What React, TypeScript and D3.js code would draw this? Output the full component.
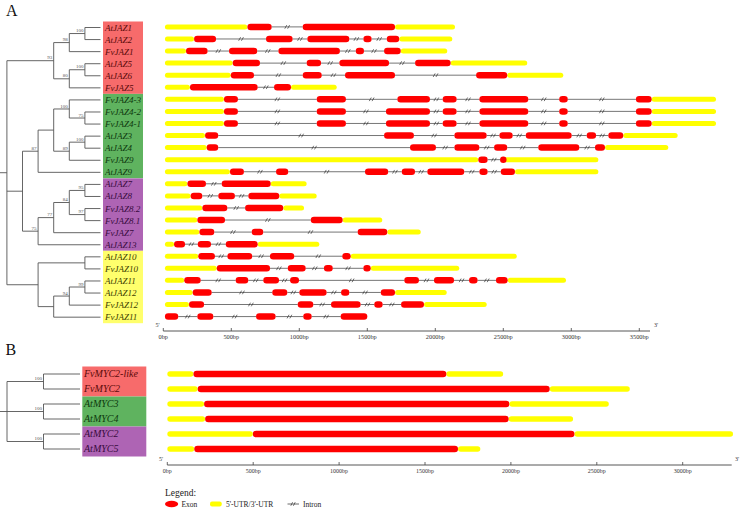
import React from "react";
import * as d3 from "d3";

type TreeNode = string | { b: number | null; c: TreeNode[] };
const N = (b: number | null, c: TreeNode[]): TreeNode => ({ b, c });

// ---------- Panel A data ----------
const jazNames = ["AtJAZ1","AtJAZ2","FvJAZ1","AtJAZ5","AtJAZ6","FvJAZ5","FvJAZ4-3","FvJAZ4-2","FvJAZ4-1","AtJAZ3","AtJAZ4","FvJAZ9","AtJAZ9","AtJAZ7","AtJAZ8","FvJAZ8.2","FvJAZ8.1","FvJAZ7","AtJAZ13","AtJAZ10","FvJAZ10","AtJAZ11","AtJAZ12","FvJAZ12","FvJAZ11"];
const jazGroup = [0,0,0,0,0,0,1,1,1,1,1,1,1,2,2,2,2,2,2,3,3,3,3,3,3];
// u = UTR, e = exon, i = intron
const jazTypes = [
  "ueieu",
  "ueieieieieu",
  "ueieieieieu",
  "ueieieieu",
  "ueieieieu",
  "ueieu",
  "ueieieieieieieu",
  "ueieieieieieieu",
  "ueieieieieieieu",
  "ueieieieieieieu",
  "ueieieieieieu",
  "ueieu",
  "ueieieieieieieu",
  "ueieu",
  "ueieieu",
  "ueieu",
  "ueieu",
  "ueieieu",
  "ueieieu",
  "ueieieieu",
  "ueieieieu",
  "ueieieieieieieieu",
  "ueieieieieu",
  "ueieieieieu",
  "eieieieie",
];
const jazBounds = [
  [12,618,797,1025,1704,2145],
  [12,226,388,755,951,1059,1368,1471,1532,1643,1735,2125],
  [12,167,326,483,691,846,1299,1415,1476,1623,1746,2088],
  [12,510,711,1054,1160,1294,1660,1851,2113,2676],
  [12,496,667,1025,1165,1336,1704,2300,2529,2941],
  [12,196,694,814,939,1275],
  [12,446,549,1128,1343,1721,1961,2054,2157,2324,2684,2911,2974,3475,3591,4064],
  [12,446,549,1128,1343,1637,1961,2054,2157,2324,2684,2911,2974,3475,3591,4064],
  [12,446,549,1128,1343,1637,1961,2054,2157,2324,2684,2911,2974,3475,3591,4064],
  [12,307,404,1623,1843,2140,2378,2471,2569,2665,3003,3113,3182,3272,3382,3782],
  [12,319,404,1814,2005,2140,2324,2432,2529,2757,3059,3174,3248,3713],
  [12,2316,2385,2476,2500,3199],
  [12,490,593,829,919,1483,1654,1753,1851,1941,2213,2324,2385,2481,2586,3199],
  [12,177,314,429,790,1054],
  [12,201,287,404,527,625,853,1128],
  [12,287,471,601,882,1035],
  [12,250,454,1084,1319,1610],
  [12,265,375,650,735,1429,1647,1893],
  [12,79,160,253,351,459,694,1147],
  [12,257,380,471,654,784,963,1316,1378,2599],
  [12,393,785,915,1047,1181,1246,1471,1525,2176],
  [12,154,275,532,625,735,851,932,998,1772,1880,1990,2138,2248,2311,2446,2532,2961],
  [12,216,356,801,912,1000,1201,1307,1368,1599,1704,2084],
  [12,189,300,988,1103,1233,1451,1551,1613,1748,1917,2378],
  [12,110,250,368,682,826,1029,1091,1304,1500],
];
const jazTree: TreeNode = N(null, [
  N(93, [N(98, [N(100, ["AtJAZ1", "AtJAZ2"]), "FvJAZ1"]), N(80, [N(100, ["AtJAZ5", "AtJAZ6"]), "FvJAZ5"])]),
  N(null, [
    N(87, [
      N(null, [N(100, ["FvJAZ4-3", N(75, ["FvJAZ4-2", "FvJAZ4-1"])]), N(89, [N(100, ["AtJAZ3", "AtJAZ4"]), "FvJAZ9"])]),
      "AtJAZ9",
    ]),
    N(75, [N(77, [N(84, [N(95, ["AtJAZ7", "AtJAZ8"]), N(97, ["FvJAZ8.2", "FvJAZ8.1"])]), "FvJAZ7"]), "AtJAZ13"]),
  ]),
  N(null, [N(null, ["AtJAZ10", "FvJAZ10"]), N(null, [N(94, [N(99, ["AtJAZ11", "AtJAZ12"]), "FvJAZ12"]), "FvJAZ11"])]),
]);
const jazTicks = [0, 500, 1000, 1500, 2000, 2500, 3000, 3500];

// ---------- Panel B data ----------
const mycNames = ["FvMYC2-like", "FvMYC2", "AtMYC3", "AtMYC4", "AtMYC2", "AtMYC5"];
const mycGroup = [0, 0, 1, 1, 2, 2];
const mycTypes = ["ueu", "ueu", "ueu", "ueu", "ueu", "ueu"];
const mycBounds = [
  [0, 152, 1624, 1955],
  [0, 177, 2226, 2692],
  [0, 214, 1991, 2570],
  [0, 220, 1987, 2362],
  [0, 498, 2370, 3293],
  [0, 157, 1692, 1822],
];
const mycTree: TreeNode = N(null, [N(100, ["FvMYC2-like", "FvMYC2"]), N(100, ["AtMYC3", "AtMYC4"]), N(100, ["AtMYC2", "AtMYC5"])]);
const mycTicks = [0, 500, 1000, 1500, 2000, 2500, 3000];

// ---------- styles ----------
const groupFill = ["#F76B6B", "#5FB35F", "#AE64B4", "#FFFF6C"];
const groupText = ["#5a0a0a", "#0e380e", "#380b3e", "#404000"];
const SERIF = "'Liberation Serif', 'Times New Roman', serif";
const UTR = "#FFFF00";
const EXON = "#FF0000";

function layoutTree(t: TreeNode, yOf: (n: string) => number, leafX: number, step: number) {
  const lines: number[][] = [];
  const labels: { x: number; y: number; t: number }[] = [];
  function rec(n: TreeNode): { x: number; y: number; h: number } {
    if (typeof n === "string") return { x: leafX, y: yOf(n), h: 0 };
    const kids = n.c.map(rec);
    const h = (d3.max(kids, (k) => k.h) as number) + 1;
    const x = leafX - step * h;
    const y = (kids[0].y + kids[kids.length - 1].y) / 2;
    lines.push([x, kids[0].y, x, kids[kids.length - 1].y]);
    kids.forEach((k) => lines.push([x, k.y, k.x, k.y]));
    if (n.b != null) labels.push({ x, y, t: n.b });
    return { x, y, h };
  }
  const r = rec(t);
  lines.push([0, r.y, r.x, r.y]);
  return { lines, labels };
}

function Tree({ tree, yOf, leafX, step }: any) {
  const { lines, labels } = layoutTree(tree, yOf, leafX, step);
  return (
    <g>
      {lines.map((l, i) => (
        <line key={i} x1={l[0]} y1={l[1]} x2={l[2]} y2={l[3]} stroke="#555" strokeWidth={0.9} />
      ))}
      {labels.map((l, i) => (
        <text key={"b" + i} x={l.x - 1.5} y={l.y - 1.4} fontSize={5} fill="#555" textAnchor="end" fontFamily={SERIF}>
          {l.t}
        </text>
      ))}
    </g>
  );
}

function Gene({ types, bounds, x, y, hu, he }: any) {
  const segs = types.split("").map((c: string, i: number) => ({ c, a: x(bounds[i]), b: x(bounds[i + 1]) }));
  return (
    <g>
      {segs.filter((s: any) => s.c === "u").map((s: any, i: number) => (
        <rect key={"u" + i} x={s.a} y={y - hu / 2} width={s.b - s.a} height={hu} rx={hu / 2} fill={UTR} />
      ))}
      {segs.filter((s: any) => s.c === "i").map((s: any, i: number) => {
        const m = (s.a + s.b) / 2;
        return (
          <g key={"i" + i}>
            <line x1={s.a} x2={s.b} y1={y} y2={y} stroke="#666" strokeWidth={0.9} />
            <line x1={m - 2.4} y1={y + 1.8} x2={m - 0.4} y2={y - 1.8} stroke="#333" strokeWidth={0.7} />
            <line x1={m + 0.4} y1={y + 1.8} x2={m + 2.4} y2={y - 1.8} stroke="#333" strokeWidth={0.7} />
          </g>
        );
      })}
      {segs.filter((s: any) => s.c === "e").map((s: any, i: number) => (
        <rect key={"e" + i} x={s.a} y={y - he / 2} width={Math.max(s.b - s.a, he)} height={he} rx={he / 2} fill={EXON} />
      ))}
    </g>
  );
}

function Axis({ x, y, ticks, end, fs, p5, p3 }: any) {
  return (
    <g fontFamily={SERIF} fill="#333">
      <line x1={x(0)} x2={end} y1={y} y2={y} stroke="#444" strokeWidth={0.9} />
      {ticks.map((t: number) => (
        <g key={t}>
          <line x1={x(t)} x2={x(t)} y1={y} y2={y - 3} stroke="#444" strokeWidth={0.8} />
          <text x={x(t)} y={y + 8} fontSize={fs} textAnchor="middle">{t + "bp"}</text>
        </g>
      ))}
      <text x={p5} y={y - 4} fontSize={6} textAnchor="middle">5'</text>
      <text x={p3} y={y - 4} fontSize={6} textAnchor="middle">3'</text>
    </g>
  );
}

export default function App() {
  // Panel A
  const xA = d3.scaleLinear().domain([0, 3500]).range([163.3, 639.3]);
  const yA = (i: number) => 27.5 + 12.07 * i;
  const yAname = (n: string) => yA(jazNames.indexOf(n));
  // Panel B
  const xB = d3.scaleLinear().domain([0, 3000]).range([167.3, 682.7]);
  const yB = (i: number) => 374 + 15 * i;
  const yBname = (n: string) => yB(mycNames.indexOf(n));

  const boxes = (groups: number[], yf: (i: number) => number, half: number, x0: number, w: number) =>
    d3.range(4).map((g) => {
      const idx = groups.map((v, i) => (v === g ? i : -1)).filter((i) => i >= 0);
      if (!idx.length) return null;
      const y0 = yf(idx[0]) - half;
      const y1 = yf(idx[idx.length - 1]) + half;
      return <rect key={g} x={x0} y={y0} width={w} height={y1 - y0} fill={groupFill[g]} />;
    });

  return (
    <svg width={740} height={508} style={{ position: "absolute", left: 0, top: 0, background: "#fff" }} fontFamily={SERIF}>
      <rect width={740} height={508} fill="#fff" />
      <text x={6} y={15.5} fontSize={16} fill="#111">A</text>
      <text x={5.5} y={355} fontSize={16} fill="#111">B</text>

      {/* Panel A */}
      {boxes(jazGroup, yA, 6, 103, 40)}
      {jazNames.map((n, i) => (
        <text key={n} x={105} y={yA(i) + 3} fontSize={9} fontStyle="italic" fill={groupText[jazGroup[i]]}>{n}</text>
      ))}
      <Tree tree={jazTree} yOf={yAname} leafX={100.5} step={15.6} />
      {jazNames.map((n, i) => (
        <Gene key={n} types={jazTypes[i]} bounds={jazBounds[i]} x={xA} y={yA(i) - 0.6} hu={5} he={6.5} />
      ))}
      <Axis x={xA} y={331} ticks={jazTicks} end={650} fs={6.3} p5={157.5} p3={656} />

      {/* Panel B */}
      {boxes(mycGroup, yB, 7.5, 82.3, 64)}
      {mycNames.map((n, i) => (
        <text key={n} x={84} y={yB(i) + 3.2} fontSize={10} fontStyle="italic" fill={groupText[mycGroup[i]]}>{n}</text>
      ))}
      <Tree tree={mycTree} yOf={yBname} leafX={80} step={36.5} />
      {mycNames.map((n, i) => (
        <Gene key={n} types={mycTypes[i]} bounds={mycBounds[i]} x={xB} y={yB(i)} hu={5.5} he={6.5} />
      ))}
      <Axis x={xB} y={465} ticks={mycTicks} end={731.7} fs={6} p5={161} p3={737} />

      {/* Legend */}
      <text x={165} y={496} fontSize={9.5} fill="#222">Legend:</text>
      <ellipse cx={171.6} cy={504} rx={6.6} ry={3.2} fill={EXON} />
      <text x={181.5} y={506.5} fontSize={7.5} fill="#222">Exon</text>
      <rect x={210} y={501.5} width={11.7} height={5} rx={2} fill={UTR} />
      <text x={226} y={506.5} fontSize={7.5} fill="#222">5'-UTR/3'-UTR</text>
      <line x1={287.5} x2={299} y1={504} y2={504} stroke="#444" strokeWidth={0.8} />
      <line x1={290.8} y1={505.8} x2={292.6} y2={502.2} stroke="#333" strokeWidth={0.7} />
      <line x1={293.4} y1={505.8} x2={295.2} y2={502.2} stroke="#333" strokeWidth={0.7} />
      <text x={303} y={506.5} fontSize={7.5} fill="#222">Intron</text>
    </svg>
  );
}
